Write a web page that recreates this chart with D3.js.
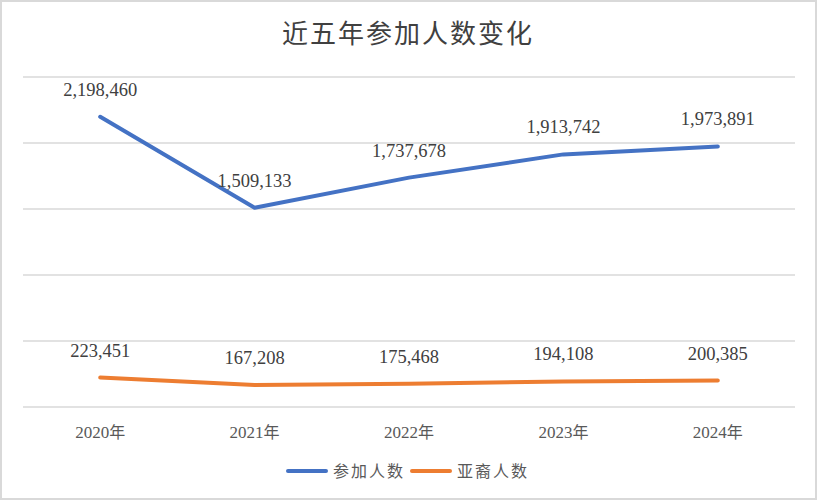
<!DOCTYPE html>
<html><head><meta charset="utf-8">
<script src="https://cdn.jsdelivr.net/npm/d3@7"></script>
<style>
html,body{margin:0;padding:0;background:#fff;}
svg{display:block;}
</style></head>
<body>
<script>
const categories = ["2020年","2021年","2022年","2023年","2024年"];
const seriesNames = ["参加人数","亚裔人数"];
const participants = [2198460,1509133,1737678,1913742,1973891];
const asian = [223451,167208,175468,194108,200385];
const yTicks = [0,500000,1000000,1500000,2000000,2500000];
const colors = ["#4472C4","#ED7D31"];

const W=817,H=500;
const svg=d3.select("body").append("svg").attr("width",W).attr("height",H);
svg.append("rect").attr("x",1).attr("y",1).attr("width",W-2).attr("height",H-2)
  .attr("fill","#fff").attr("stroke","#d9d9d9").attr("stroke-width",2);

const serif="'Liberation Serif','DejaVu Serif',serif";
const cjk="'Noto Sans CJK SC',sans-serif";

svg.append("text").attr("x",408).attr("y",43).attr("text-anchor","middle")
  .style("font-family",cjk).style("font-size","26px").attr("fill","#404040")
  .attr("letter-spacing","2px").text("近五年参加人数变化");

const x=d3.scaleBand().domain(categories).range([23,795]);
const y=d3.scaleLinear().domain([0,2500000]).range([407,77]);

svg.append("g").selectAll("line").data(yTicks).join("line")
  .attr("x1",23).attr("x2",795).attr("y1",d=>y(d)).attr("y2",d=>y(d))
  .attr("stroke","#d9d9d9").attr("stroke-width",1.5);

const xAxis=svg.append("g").attr("transform","translate(0,407)")
  .call(d3.axisBottom(x).tickSize(0).tickPadding(0));
xAxis.select(".domain").remove();
xAxis.selectAll("text").remove();
xAxis.selectAll(".tick").each(function(d){
  const t=d3.select(this).append("text").attr("y",31).attr("text-anchor","middle").attr("fill","#595959")
    .style("font-size","17px");
  t.append("tspan").style("font-family",serif).text(d.replace("年",""));
  t.append("tspan").style("font-family",cjk).style("font-size","16px").text("年");
});

const cx=d=>x(d)+x.bandwidth()/2;
const line=d3.line().x((d,i)=>cx(categories[i])).y(d=>y(d));
[participants,asian].forEach((s,k)=>{
  svg.append("path").datum(s).attr("d",line).attr("fill","none")
    .attr("stroke",colors[k]).attr("stroke-width",4).attr("stroke-linejoin","round").attr("stroke-linecap","round");
  svg.append("g").selectAll("text").data(s).join("text")
    .attr("x",(d,i)=>cx(categories[i])).attr("y",d=>y(d)-21)
    .attr("text-anchor","middle").style("font-family",serif).style("font-size","18.5px")
    .attr("fill","#404040").text(d=>d3.format(",")(d));
});

const legend=svg.append("g");
const items=[{x:288,tx:333},{x:412,tx:457}];
seriesNames.forEach((n,k)=>{
  legend.append("line").attr("x1",items[k].x).attr("x2",items[k].x+38).attr("y1",471).attr("y2",471)
    .attr("stroke",colors[k]).attr("stroke-width",4).attr("stroke-linecap","round");
  legend.append("text").attr("x",items[k].tx).attr("y",477).style("font-family",cjk).style("font-size","16px")
    .attr("letter-spacing","2px").attr("fill","#595959").text(n);
});
</script>
</body></html>
